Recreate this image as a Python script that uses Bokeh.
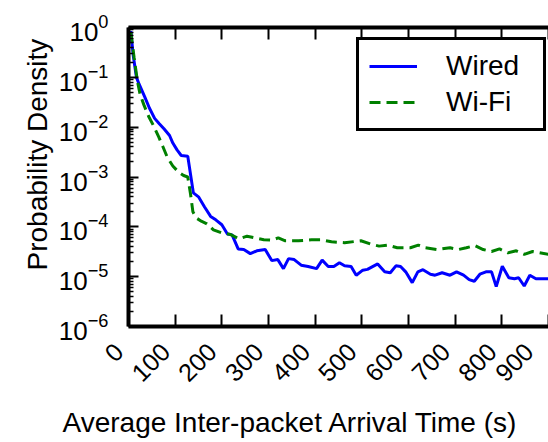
import math
from bokeh.plotting import figure
from bokeh.models import (LinearAxis, FixedTicker, Range1d, Legend,
                          LegendItem, Title, ColumnDataSource, LogTickFormatter,
                          CustomJSTickFormatter)
from bokeh.embed import file_html
from bokeh.resources import INLINE

# ---- data ----
wired_x = [5, 10, 17, 23, 35, 45, 56, 66, 76, 88, 95, 104, 113, 127, 139, 150,
           163, 176, 187, 200, 212, 222, 235, 247, 261, 275, 293, 307, 320, 332,
           343, 355, 370, 385, 403, 415, 428, 440, 452, 463, 477, 488, 502, 512,
           534, 549, 561, 573, 583, 594, 608, 620, 631, 647, 657, 672, 689, 703,
           718, 730, 741, 753, 766, 778, 788, 801, 815, 827, 836, 848, 860, 873,
           900]
wired_y = [0.85, 0.28, 0.1, 0.072, 0.04, 0.024, 0.015, 0.0117, 0.0093, 0.0068,
           0.0048, 0.0035, 0.0027, 0.0026, 0.00048, 0.0004, 0.00025, 0.000162,
           0.000138, 0.00011, 7.2e-5, 6.9e-5, 3.6e-5, 3.5e-5, 2.9e-5, 3.3e-5,
           3.5e-5, 2.1e-5, 2.2e-5, 1.45e-5, 2.3e-5, 2.2e-5, 1.7e-5, 1.6e-5,
           1.45e-5, 2.15e-5, 1.6e-5, 1.6e-5, 1.9e-5, 1.65e-5, 1.6e-5, 1.07e-5,
           1.35e-5, 1.4e-5, 1.8e-5, 1.25e-5, 1.2e-5, 1.65e-5, 1.6e-5, 1.25e-5,
           7.6e-6, 1.25e-5, 1.38e-5, 1.12e-5, 1.07e-5, 1.2e-5, 1.07e-5, 1.25e-5,
           1.07e-5, 8.7e-6, 8.1e-6, 1.12e-5, 1.25e-5, 1.25e-5, 6.3e-6, 1.62e-5,
           9.5e-6, 9.1e-6, 9.5e-6, 6.5e-6, 1.07e-5, 9.1e-6, 9.1e-6]

wifi_x = [5, 12, 19, 25, 33, 43, 54, 65, 74, 83, 95, 107, 118, 127, 133, 138,
          145, 156, 168, 182, 199, 219, 237, 254, 272, 290, 307, 321, 336, 364,
          392, 413, 435, 463, 498, 519, 537, 555, 576, 604, 621, 636, 661, 689,
          707, 724, 742, 760, 778, 795, 813, 831, 848, 866, 900]
wifi_y = [0.8, 0.25, 0.085, 0.045, 0.028, 0.0166, 0.0105, 0.0063, 0.004,
          0.0025, 0.00166, 0.00126, 0.00107, 0.001, 0.00045, 0.0002, 0.000151,
          0.00013, 0.000115, 8.7e-5, 7.6e-5, 7.0e-5, 5.75e-5, 6.5e-5, 6.0e-5,
          5.5e-5, 5.4e-5, 6.0e-5, 5.25e-5, 5.25e-5, 5.5e-5, 5.5e-5, 5.0e-5,
          4.8e-5, 5.25e-5, 4.5e-5, 4.1e-5, 4.3e-5, 3.8e-5, 3.8e-5, 4.3e-5,
          3.8e-5, 3.5e-5, 3.8e-5, 3.5e-5, 3.8e-5, 4.2e-5, 3.5e-5, 3.2e-5,
          3.6e-5, 3.0e-5, 3.3e-5, 2.8e-5, 3.2e-5, 2.8e-5]

x_ticks = [0, 100, 200, 300, 400, 500, 600, 700, 800, 900]
y_ticks = [1e-6, 1e-5, 1e-4, 1e-3, 1e-2, 1e-1, 1e0]
y_minor = [m * t for t in y_ticks[:-1] for m in range(2, 10)]

series_labels = ["Wired", "Wi-Fi"]
x_title = "Average Inter-packet Arrival Time (s)"
y_title = "Probability Density"

FONT = "Liberation Sans"

p = figure(width=548, height=442, y_axis_type="log",
           x_range=Range1d(0, 900), y_range=Range1d(1e-6, 1),
           output_backend="svg", toolbar_location=None,
           min_border_left=128, min_border_right=0,
           min_border_top=27, min_border_bottom=115)
p.outline_line_color = None
p.xgrid.grid_line_color = None
p.ygrid.grid_line_color = None
p.background_fill_color = "white"
p.border_fill_color = "white"

src_w = ColumnDataSource(dict(x=wired_x, y=wired_y))
src_f = ColumnDataSource(dict(x=wifi_x, y=wifi_y))
r_w = p.line("x", "y", source=src_w, line_color="#0000ff", line_width=3)
r_f = p.line("x", "y", source=src_f, line_color="#008000", line_width=3,
             line_dash="11 6")

# bottom axis
xa = p.xaxis[0]
xa.ticker = FixedTicker(ticks=x_ticks)
xa.formatter = CustomJSTickFormatter(code="return tick.toString() + '\\u00a0\\u00a0';")
xa.major_tick_in = 12
xa.major_tick_out = 0
xa.minor_tick_in = 0
xa.minor_tick_out = 0
xa.axis_line_width = 4
xa.major_tick_line_width = 2
xa.major_label_orientation = math.pi / 4
xa.major_label_text_font = FONT
xa.major_label_text_font_size = "25px"
xa.major_label_text_color = "black"
xa.major_label_standoff = 11

# left axis
ya = p.yaxis[0]
ya.ticker = FixedTicker(ticks=y_ticks, minor_ticks=y_minor)
ya.formatter = LogTickFormatter()
ya.major_tick_in = 10
ya.major_tick_out = 0
ya.minor_tick_in = 5
ya.minor_tick_out = 0
ya.axis_line_width = 4
ya.major_tick_line_width = 2
ya.minor_tick_line_width = 1.5
ya.major_label_text_font = FONT
ya.major_label_text_font_size = "26px"
ya.major_label_text_color = "black"
ya.major_label_standoff = 20

# top axis (ticks only)
ta = LinearAxis(ticker=FixedTicker(ticks=x_ticks), axis_line_width=4,
                major_tick_in=12, major_tick_out=0, minor_tick_in=0,
                minor_tick_out=0, major_tick_line_width=2,
                major_label_text_color=None, major_label_standoff=0)
p.add_layout(ta, "above")

# axis titles
p.add_layout(Title(text=y_title, align="left", text_font=FONT,
                   text_font_size="28px", text_font_style="normal",
                   text_color="black", offset=56, standoff=6), "left")
p.add_layout(Title(text=x_title, align="left", text_font=FONT,
                   text_font_size="28px", text_font_style="normal",
                   text_color="black", offset=-66, standoff=10), "below")

legend = Legend(items=[LegendItem(label=series_labels[0], renderers=[r_w]),
                       LegendItem(label=series_labels[1], renderers=[r_f])],
                location=(228, 195), border_line_color="black",
                border_line_width=3, border_line_alpha=1,
                label_text_font=FONT, label_text_font_size="28px",
                label_text_color="black",
                glyph_width=48, label_standoff=29, padding=10, spacing=4,
                label_width=87, background_fill_alpha=1)
p.add_layout(legend)

open("out.html", "w").write(file_html(p, INLINE))
